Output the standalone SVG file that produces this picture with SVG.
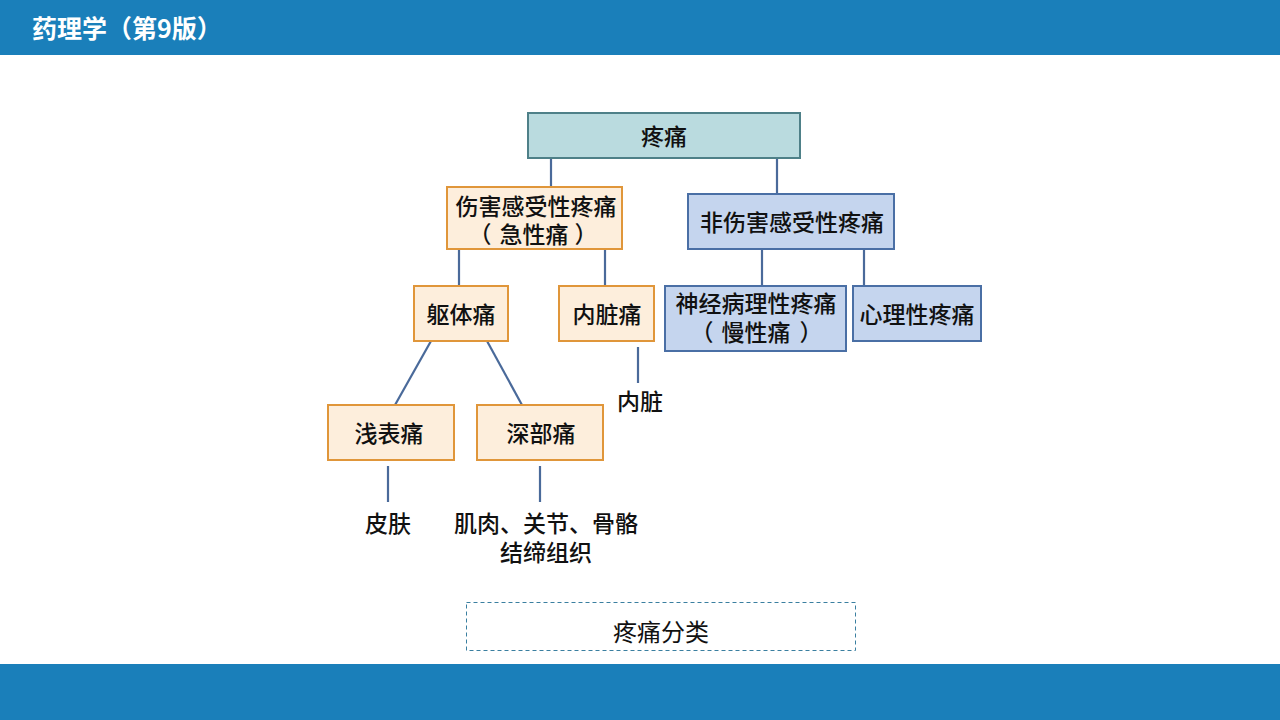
<svg xmlns="http://www.w3.org/2000/svg" width="1280" height="720" viewBox="0 0 1280 720">
<style>
text{font-family:"Noto Sans CJK SC","Liberation Sans",sans-serif;fill:#111;text-anchor:middle;dominant-baseline:central}
.t{font-size:23px;font-weight:500}
.o{fill:#fdeedc;stroke:#e0963a;stroke-width:2}
.b{fill:#c5d5ee;stroke:#4a6fa5;stroke-width:2}
.c{fill:none;stroke:#4a6a9a;stroke-width:2.2}
</style>
<rect x="0" y="0" width="1280" height="55" fill="#1a7fba"/>
<rect x="0" y="664" width="1280" height="56" fill="#1a7fba"/>
<text x="32" y="27" style="fill:#fff;font-size:25px;font-weight:bold;text-anchor:start">药理学（第9版）</text>
<g id="connectors">
<line class="c" x1="551" y1="158" x2="551" y2="187"/>
<line class="c" x1="777" y1="158" x2="777" y2="194"/>
<line class="c" x1="459" y1="249" x2="459" y2="286"/>
<line class="c" x1="605" y1="249" x2="605" y2="286"/>
<line class="c" x1="762" y1="249" x2="762" y2="286"/>
<line class="c" x1="864" y1="249" x2="864" y2="286"/>
<line class="c" x1="431" y1="341" x2="395" y2="405"/>
<line class="c" x1="487" y1="341" x2="522" y2="405"/>
<line class="c" x1="638" y1="347" x2="638" y2="383"/>
<line class="c" x1="388" y1="466" x2="388" y2="502"/>
<line class="c" x1="540" y1="466" x2="540" y2="502"/>
</g>
<g id="n-root"><rect x="528" y="113" width="272" height="45" fill="#badbdf" stroke="#4e8088" stroke-width="2"/><text class="t" x="664" y="135">疼痛</text></g>
<g id="n-noci"><rect class="o" x="447" y="187" width="175" height="62"/><text class="t"><tspan x="536" y="205">伤害感受性疼痛</tspan><tspan x="480" y="233">（</tspan><tspan x="534" y="233">急性痛</tspan><tspan x="586" y="233">）</tspan></text></g>
<g id="n-nonnoci"><rect class="b" x="688" y="194" width="206" height="55"/><text class="t" x="792" y="221">非伤害感受性疼痛</text></g>
<g id="n-soma"><rect class="o" x="414" y="286" width="94" height="55"/><text class="t" x="461" y="313">躯体痛</text></g>
<g id="n-visc"><rect class="o" x="559" y="286" width="95" height="55"/><text class="t" x="607" y="313">内脏痛</text></g>
<g id="n-neuro"><rect class="b" x="665" y="286" width="181" height="65"/><text class="t"><tspan x="756" y="302">神经病理性疼痛</tspan><tspan x="702" y="331">（</tspan><tspan x="756" y="331">慢性痛</tspan><tspan x="811" y="331">）</tspan></text></g>
<g id="n-psy"><rect class="b" x="853" y="286" width="128" height="55"/><text class="t" x="917" y="313">心理性疼痛</text></g>
<g id="n-surf"><rect class="o" x="328" y="405" width="126" height="55"/><text class="t" x="389" y="432">浅表痛</text></g>
<g id="n-deep"><rect class="o" x="477" y="405" width="126" height="55"/><text class="t" x="541" y="432">深部痛</text></g>
<g id="l-visc"><text class="t" x="640" y="400">内脏</text></g>
<g id="l-skin"><text class="t" x="388" y="522">皮肤</text></g>
<g id="l-deep"><text class="t"><tspan x="546" y="522">肌肉、关节、骨骼</tspan><tspan x="546" y="551">结缔组织</tspan></text></g>
<g id="caption"><rect x="466.5" y="602.5" width="389" height="48" fill="#fff" stroke="#3a7fa0" stroke-width="1" stroke-dasharray="4,3"/><text x="661" y="630" style="font-size:24px">疼痛分类</text></g>
</svg>
